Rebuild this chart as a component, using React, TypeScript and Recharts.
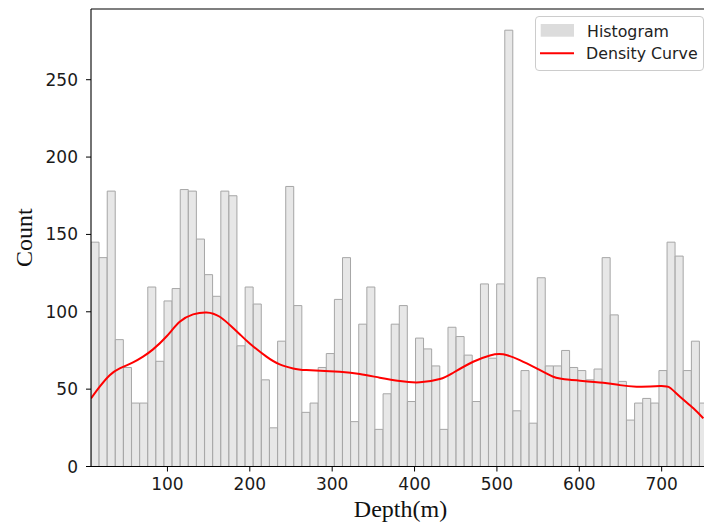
import { ComposedChart, Bar, Line, XAxis, YAxis, Legend, ReferenceLine, Label } from 'recharts';

// histogram bins (depth in m)
const binStart = 7.2;
const binWidth = 9.85;
const counts = [
  145, 135, 178, 82, 64, 41, 41, 116, 68, 107,
  115, 179, 178, 147, 124, 110, 178, 175, 78, 116,
  105, 56, 25, 81, 181, 104, 35, 41, 64, 73,
  108, 135, 29, 92, 116, 24, 47, 92, 104, 42,
  83, 76, 65, 24, 90, 84, 72, 42, 118, 70,
  118, 282, 36, 62, 28, 122, 65, 65, 75, 64,
  62, 56, 63, 135, 98, 55, 30, 41, 44, 41,
  62, 145, 136, 62, 81, 41,
];

// density curve
const densityDepth = [
  7.2, 17.8, 29.9, 42.1, 58.2, 70.4, 82.5, 98.8, 114.9, 131.1,
  147.4, 163.5, 179.7, 187.8, 199.9, 220.2, 236.3, 252.6, 268.8, 309.2,
  333.5, 357.8, 382.1, 406.4, 430.7, 446.9, 471.2, 491.5, 507.6, 527.8,
  548.2, 568.4, 588.6, 629.1, 649.3, 669.6, 698, 710.1, 722.3, 738.5, 750.6,
];
const densityCount = [
  44, 51.6, 59, 63.4, 67.3, 71, 75.7, 84, 93.5, 98.3,
  99.6, 96.8, 89.5, 85.5, 79.5, 71, 66, 63.4, 62.3, 61.2,
  59.8, 57.4, 55.2, 54.4, 56.5, 60.6, 67.7, 71.8, 72.5, 68.8,
  63.4, 58, 56, 54.1, 52.6, 51.6, 52, 50.9, 45.1, 37.6, 31.1,
];

const xTicks = [100, 200, 300, 400, 500, 600, 700];
const yTicks = [0, 50, 100, 150, 200, 250];
const xDomain = [7.2, 751.4];
const yMax = 295.7;

const histData = counts.map((count, i) => ({ depth: binStart + binWidth * (i + 0.5), count }));
const densityData = densityDepth.map((depth, i) => ({ depth, density: densityCount[i] }));

const tickStyle = { fontSize: 17, fill: '#1a1a1a', fontFamily: 'DejaVu Sans' };

function LegendBox() {
  return (
    <svg width={169} height={55} style={{ display: 'block' }}>
      <rect x={0.5} y={0.5} width={168} height={54} rx={3.5} fill="#ffffff" fillOpacity={0.8} stroke="#cccccc" />
      <rect x={5.7} y={8} width={33.3} height={12.7} fill="#dcdcdc" />
      <text x={52} y={20.7} fontFamily="DejaVu Sans" fontSize={15.8} fill="#222">Histogram</text>
      <line x1={5} x2={39} y1={37.3} y2={37.3} stroke="#ff0000" strokeWidth={2} />
      <text x={51} y={43.2} fontFamily="DejaVu Sans" fontSize={15.8} fill="#222">Density Curve</text>
    </svg>
  );
}

export default function App() {
  return (
    <div style={{ position: 'absolute', left: 0, top: 0, width: 704, height: 524, background: '#fff' }}>
      <ComposedChart
        width={704}
        height={524}
        data={histData}
        margin={{ top: 9, right: 0, bottom: 0, left: 0 }}
        barCategoryGap={0}
        barGap={0}
      >
        <XAxis
          dataKey="depth"
          type="number"
          domain={xDomain}
          allowDataOverflow
          ticks={xTicks}
          height={57.5}
          tick={tickStyle}
          tickSize={5}
          tickMargin={6}
          tickLine={{ stroke: '#000' }}
          axisLine={{ stroke: '#000', strokeWidth: 1.1 }}
        >
          <Label
            content={({ viewBox }: any) => (
              <text
                x={viewBox.x + viewBox.width / 2 + 3}
                y={viewBox.y + 50.5}
                textAnchor="middle"
                fontFamily="Liberation Serif"
                fontSize={24}
                fill="#111"
              >
                Depth(m)
              </text>
            )}
          />
        </XAxis>
        <XAxis xAxisId="line" dataKey="depth" type="number" domain={xDomain} allowDataOverflow hide />
        <YAxis
          type="number"
          domain={[0, yMax]}
          ticks={yTicks}
          width={91}
          tick={tickStyle}
          tickSize={5}
          tickMargin={8}
          tickLine={{ stroke: '#000' }}
          axisLine={{ stroke: '#000', strokeWidth: 1.1 }}
        >
          <Label
            content={({ viewBox }: any) => {
              const cy = viewBox.y + viewBox.height / 2;
              return (
                <text
                  x={32}
                  y={cy}
                  transform={`rotate(-90, 32, ${cy})`}
                  textAnchor="middle"
                  fontFamily="Liberation Serif"
                  fontSize={24}
                  fill="#111"
                >
                  Count
                </text>
              );
            }}
          />
        </YAxis>
        <ReferenceLine y={yMax} stroke="#000" strokeWidth={1.1} />
        <Bar dataKey="count" fill="#e7e7e7" stroke="#a6a6a6" strokeWidth={1} isAnimationActive={false} />
        <Line
          xAxisId="line"
          data={densityData}
          dataKey="density"
          type="natural"
          stroke="#ff0000"
          strokeWidth={2}
          dot={false}
          isAnimationActive={false}
        />
        <Legend
          layout="vertical"
          align="center"
          verticalAlign="middle"
          content={<LegendBox />}
          wrapperStyle={{ position: 'absolute', left: 535, top: 16, width: 169, height: 55 }}
        />
      </ComposedChart>
    </div>
  );
}
